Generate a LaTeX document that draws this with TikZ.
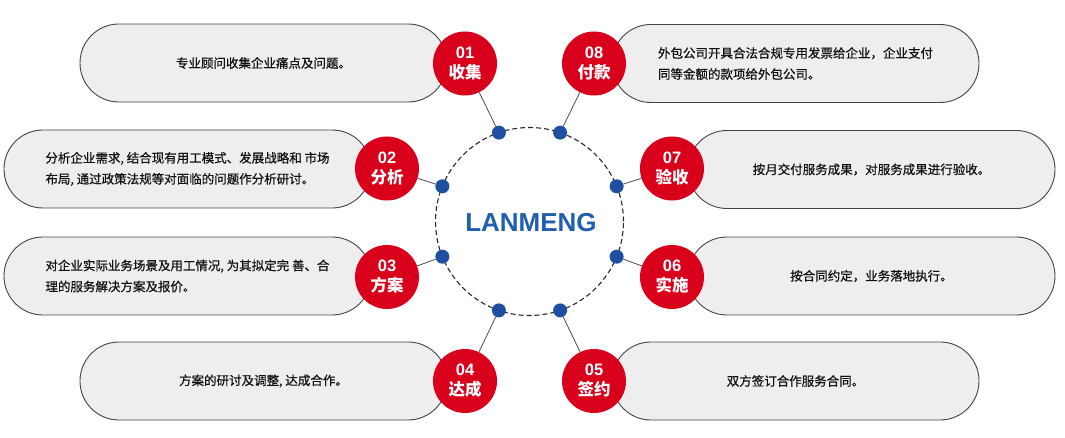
\documentclass[tikz,border=0pt]{standalone}
\usepackage{fontspec}
\setmainfont{Noto Sans CJK SC}
\newfontfamily\bodyfont[FakeBold=0.6]{Noto Sans CJK SC}
\newfontfamily\latinfont{Liberation Sans}
\usetikzlibrary{calc}
\definecolor{badgered}{HTML}{D9001B}
\definecolor{capfill}{HTML}{EEEEEE}
\definecolor{capedge}{HTML}{444444}
\definecolor{dotblue}{HTML}{1E4FA0}
\definecolor{logoblue}{HTML}{1F5FAD}
\definecolor{txt}{HTML}{111111}
\tikzset{
  capsule/.style={draw=capedge, fill=capfill, line width=0.9pt, rounded corners=38.9pt,
    minimum width=367pt, minimum height=78pt, inner sep=0pt, text=txt, align=left,
    font=\bodyfont\fontsize{12.5}{21}\selectfont},
  badge/.style={circle, fill=badgered, minimum size=64pt, inner sep=0pt, text=white,
    align=center, font=\fontsize{16.5}{20}\selectfont\bfseries},
  bluedot/.style={circle, fill=dotblue, minimum size=14pt, inner sep=0pt},
  ring/.style={circle, draw=black!85, line width=1.1pt, dash pattern=on 5pt off 3pt,
    minimum size=188pt, inner sep=0pt},
  link/.style={draw=black!70, line width=0.8pt}
}
\begin{document}
\begin{tikzpicture}[x=1pt,y=-1pt]
\useasboundingbox (0,0) rectangle (1065,438);
% capsules
\node[capsule] (c1) at (263.5,63) {专业顾问收集企业痛点及问题。};
\node[capsule] (c2) at (187.5,169) {分析企业需求, 结合现有用工模式、发展战略和 市场\\布局, 通过政策法规等对面临的问题作分析研讨。};
\node[capsule] (c3) at (187.5,276) {对企业实际业务场景及用工情况, 为其拟定完 善、合\\理的服务解决方案及报价。};
\node[capsule] (c4) at (263.5,381) {方案的研讨及调整, 达成合作。};
\node[capsule] (c8) at (795.5,63.5) {外包公司开具合法合规专用发票给企业，企业支付\\同等金额的款项给外包公司。};
\node[capsule] (c7) at (871.5,169.5) {按月交付服务成果，对服务成果进行验收。};
\node[capsule] (c6) at (871.5,276) {按合同约定，业务落地执行。};
\node[capsule] (c5) at (795.5,381) {双方签订合作服务合同。};
% ring
\node[ring] (ring) at (529.5,221.5) {};
% dots
\node[bluedot] (d1) at ($(ring.center)+(-109:94)$) {};
\node[bluedot] (d8) at ($(ring.center)+(-71:94)$) {};
\node[bluedot] (d2) at ($(ring.center)+(202:94)$) {};
\node[bluedot] (d3) at ($(ring.center)+(158:94)$) {};
\node[bluedot] (d4) at ($(ring.center)+(109:94)$) {};
\node[bluedot] (d5) at ($(ring.center)+(71:94)$) {};
\node[bluedot] (d6) at ($(ring.center)+(22:94)$) {};
\node[bluedot] (d7) at ($(ring.center)+(-22:94)$) {};
% badges
\node[badge] (b1) at (465,63.5) {{\latinfont\bfseries 01}\\收集};
\node[badge] (b2) at (387,168.5) {{\latinfont\bfseries 02}\\分析};
\node[badge] (b3) at (387,277) {{\latinfont\bfseries 03}\\方案};
\node[badge] (b4) at (465,381) {{\latinfont\bfseries 04}\\达成};
\node[badge] (b5) at (594,381) {{\latinfont\bfseries 05}\\签约};
\node[badge] (b6) at (672,277) {{\latinfont\bfseries 06}\\实施};
\node[badge] (b7) at (672,168.5) {{\latinfont\bfseries 07}\\验收};
\node[badge] (b8) at (594,63.5) {{\latinfont\bfseries 08}\\付款};
% links
\foreach \i in {1,...,8} { \path[link] (d\i) -- (b\i); }
% logo
\node[text=logoblue, font=\latinfont\bfseries\fontsize{26}{30}\selectfont] (logo) at (531,222.5) {LANMENG};
\end{tikzpicture}
\end{document}
